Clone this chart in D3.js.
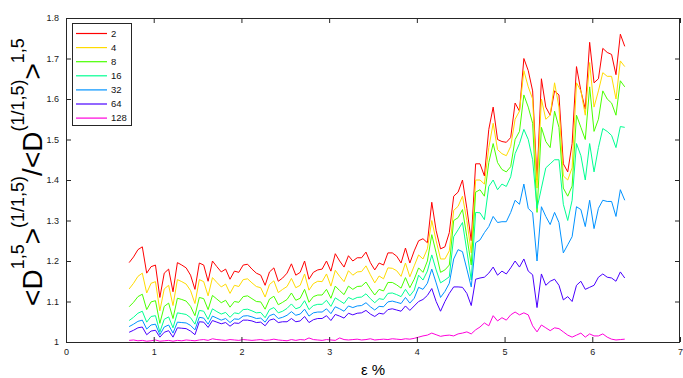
<!DOCTYPE html>
<html>
<head>
<meta charset="utf-8">
<script src="https://cdn.jsdelivr.net/npm/d3@7"></script>
<style>
  html, body { margin: 0; padding: 0; background: #fff; }
  svg { display: block; }
</style>
</head>
<body>
<svg id="chart" width="683" height="378"></svg>
<script>
// ---------------- data ----------------
const eps = [0.72,0.77,0.82,0.87,0.92,0.97,1.02,1.07,1.12,1.17,
1.22,1.27,1.32,1.37,1.42,1.47,1.52,1.57,1.62,1.67,
1.72,1.77,1.82,1.87,1.92,1.97,2.02,2.07,2.12,2.17,
2.22,2.27,2.32,2.37,2.42,2.47,2.52,2.57,2.62,2.67,
2.72,2.77,2.82,2.87,2.92,2.97,3.02,3.07,3.12,3.17,
3.22,3.27,3.32,3.37,3.42,3.47,3.52,3.57,3.62,3.67,
3.72,3.77,3.82,3.87,3.92,3.97,4.02,4.07,4.12,4.17,
4.22,4.27,4.32,4.37,4.42,4.47,4.52,4.57,4.62,4.67,
4.72,4.77,4.82,4.87,4.92,4.97,5.02,5.07,5.12,5.17,
5.22,5.27,5.32,5.37,5.42,5.47,5.52,5.57,5.62,5.67,
5.72,5.77,5.82,5.87,5.92,5.97,6.02,6.07,6.12,6.17,
6.22,6.27,6.32,6.37];

const s2 = [1.196,1.21,1.228,1.235,1.17,1.186,1.19,1.11,1.17,1.18,
1.124,1.196,1.19,1.183,1.165,1.13,1.195,1.19,1.15,1.2,
1.186,1.173,1.18,1.155,1.175,1.172,1.19,1.192,1.18,1.17,
1.165,1.14,1.173,1.183,1.15,1.158,1.17,1.193,1.165,1.172,
1.2,1.155,1.172,1.178,1.18,1.2,1.175,1.218,1.2,1.185,
1.213,1.2,1.208,1.208,1.222,1.196,1.178,1.195,1.19,1.22,
1.22,1.212,1.195,1.232,1.195,1.225,1.25,1.255,1.245,1.345,
1.275,1.23,1.235,1.27,1.36,1.37,1.4,1.33,1.25,1.44,
1.44,1.41,1.525,1.58,1.5,1.495,1.493,1.505,1.59,1.57,
1.70,1.67,1.62,1.40,1.65,1.58,1.56,1.62,1.61,1.44,
1.42,1.49,1.68,1.62,1.575,1.74,1.64,1.65,1.725,1.715,
1.71,1.66,1.76,1.73];

const s4 = [1.131,1.145,1.162,1.17,1.121,1.145,1.149,1.077,1.131,1.14,
1.09,1.154,1.149,1.143,1.127,1.095,1.154,1.149,1.114,1.159,
1.147,1.136,1.143,1.12,1.14,1.137,1.154,1.156,1.146,1.137,
1.134,1.111,1.142,1.151,1.122,1.13,1.137,1.157,1.134,1.14,
1.168,1.128,1.144,1.15,1.149,1.168,1.138,1.177,1.162,1.149,
1.176,1.165,1.173,1.174,1.188,1.166,1.146,1.163,1.156,1.183,
1.182,1.176,1.162,1.195,1.161,1.188,1.215,1.205,1.23,1.30,
1.25,1.205,1.205,1.225,1.325,1.335,1.36,1.3,1.22,1.40,
1.40,1.39,1.48,1.54,1.475,1.465,1.46,1.483,1.55,1.57,
1.67,1.63,1.6,1.38,1.6,1.55,1.56,1.64,1.58,1.41,
1.40,1.43,1.64,1.62,1.56,1.69,1.58,1.62,1.665,1.656,
1.656,1.6,1.694,1.68];

const s8 = [1.087,1.098,1.112,1.118,1.08,1.099,1.102,1.046,1.088,1.096,
1.058,1.108,1.105,1.101,1.088,1.065,1.11,1.107,1.08,1.115,
1.106,1.097,1.103,1.086,1.1,1.098,1.112,1.114,1.107,1.1,
1.099,1.081,1.106,1.113,1.092,1.098,1.105,1.121,1.103,1.108,
1.13,1.098,1.112,1.116,1.116,1.13,1.108,1.138,1.127,1.117,
1.138,1.13,1.137,1.138,1.148,1.131,1.116,1.13,1.126,1.147,
1.147,1.141,1.133,1.159,1.134,1.155,1.183,1.172,1.2,1.265,
1.22,1.172,1.178,1.19,1.3,1.307,1.327,1.26,1.19,1.37,
1.376,1.36,1.443,1.49,1.443,1.426,1.42,1.433,1.50,1.52,
1.61,1.58,1.54,1.32,1.53,1.495,1.48,1.57,1.53,1.38,
1.36,1.385,1.56,1.53,1.5,1.63,1.52,1.55,1.62,1.6,
1.59,1.56,1.645,1.63];

const s16 = [1.053,1.061,1.071,1.076,1.049,1.063,1.065,1.025,1.056,1.062,
1.035,1.072,1.07,1.068,1.06,1.044,1.078,1.076,1.056,1.082,
1.075,1.069,1.073,1.061,1.072,1.07,1.08,1.081,1.077,1.072,
1.073,1.06,1.08,1.085,1.072,1.076,1.083,1.094,1.082,1.086,
1.102,1.08,1.09,1.093,1.093,1.103,1.088,1.109,1.102,1.095,
1.11,1.105,1.11,1.111,1.119,1.107,1.097,1.107,1.105,1.12,
1.121,1.117,1.112,1.13,1.114,1.128,1.165,1.153,1.175,1.215,
1.178,1.146,1.153,1.161,1.26,1.277,1.295,1.225,1.153,1.32,
1.319,1.302,1.384,1.40,1.376,1.39,1.384,1.408,1.465,1.49,
1.525,1.5,1.45,1.33,1.38,1.43,1.44,1.45,1.45,1.34,
1.30,1.35,1.49,1.46,1.40,1.49,1.42,1.48,1.527,1.52,
1.51,1.48,1.532,1.53];

const s32 = [1.038,1.044,1.051,1.054,1.032,1.042,1.044,1.018,1.037,1.042,
1.022,1.049,1.048,1.047,1.041,1.03,1.061,1.059,1.044,1.064,
1.059,1.054,1.058,1.048,1.057,1.056,1.064,1.065,1.062,1.058,
1.059,1.049,1.065,1.069,1.058,1.061,1.066,1.075,1.066,1.069,
1.081,1.064,1.072,1.074,1.074,1.082,1.07,1.087,1.082,1.076,
1.089,1.085,1.089,1.09,1.097,1.087,1.079,1.088,1.087,1.099,
1.101,1.098,1.095,1.11,1.096,1.108,1.135,1.13,1.145,1.18,
1.146,1.11,1.125,1.145,1.205,1.228,1.223,1.18,1.136,1.245,
1.252,1.27,1.285,1.31,1.295,1.297,1.297,1.32,1.35,1.34,
1.39,1.33,1.319,1.2,1.334,1.31,1.29,1.32,1.295,1.22,
1.24,1.26,1.334,1.327,1.285,1.35,1.28,1.33,1.35,1.347,
1.347,1.31,1.376,1.35];

const s64 = [1.024,1.029,1.035,1.037,1.018,1.027,1.029,1.012,1.024,1.028,
1.012,1.035,1.034,1.033,1.027,1.018,1.05,1.049,1.036,1.053,
1.049,1.045,1.048,1.039,1.047,1.046,1.054,1.054,1.052,1.048,
1.049,1.04,1.054,1.057,1.048,1.05,1.05,1.058,1.05,1.052,
1.063,1.048,1.055,1.058,1.058,1.065,1.053,1.068,1.064,1.059,
1.071,1.067,1.071,1.072,1.078,1.069,1.063,1.071,1.069,1.08,
1.082,1.079,1.076,1.089,1.078,1.089,1.1,1.105,1.115,1.132,
1.1,1.076,1.1,1.12,1.136,1.136,1.135,1.12,1.09,1.155,
1.158,1.16,1.17,1.185,1.165,1.175,1.168,1.183,1.2,1.185,
1.205,1.175,1.166,1.085,1.168,1.14,1.15,1.155,1.14,1.104,
1.112,1.1,1.14,1.15,1.13,1.135,1.14,1.16,1.168,1.16,
1.158,1.15,1.173,1.158];

const s128 = [1.004,1.005,1.003,1.004,1.002,1.003,1.005,1.002,1.003,1.004,
1.002,1.004,1.003,1.005,1.004,1.003,1.005,1.006,1.004,1.008,
1.006,1.005,1.004,1.006,1.005,1.004,1.006,1.005,1.004,1.005,
1.006,1.004,1.005,1.007,1.005,1.004,1.003,1.006,1.004,1.006,
1.005,1.01,1.006,1.005,1.004,1.006,1.005,1.004,1.01,1.006,
1.005,1.006,1.007,1.005,1.006,1.008,1.005,1.006,1.007,1.006,
1.008,1.007,1.006,1.008,1.007,1.009,1.012,1.015,1.017,1.022,
1.018,1.014,1.016,1.017,1.015,1.02,1.022,1.025,1.02,1.03,
1.037,1.047,1.04,1.065,1.052,1.06,1.054,1.067,1.074,1.067,
1.072,1.067,1.04,1.025,1.042,1.035,1.028,1.035,1.033,1.025,
1.017,1.012,1.017,1.022,1.012,1.02,1.015,1.015,1.02,1.012,
1.007,1.005,1.006,1.007];

const seriesNames = ["2","4","8","16","32","64","128"];
const seriesValues = [s2, s4, s8, s16, s32, s64, s128];
const seriesColors = ["#ff0000","#ffdb00","#49ff00","#00ff92","#0092ff","#4900ff","#ff00db"];
const xTicks = [0,1,2,3,4,5,6,7];
const yTicks = [1,1.1,1.2,1.3,1.4,1.5,1.6,1.7,1.8];

// ---------------- layout ----------------
const L = 66, R = 680, T = 18, B = 342;
const svg = d3.select("#chart");
const x = d3.scaleLinear().domain([0,7]).range([L,R]);
const y = d3.scaleLinear().domain([1,1.8]).range([B,T]);
const font = "'Liberation Sans', Arial, Helvetica, sans-serif";

// lines
const line = d3.line().x((d,i)=>x(eps[i])).y(d=>y(d));
const gLines = svg.append("g");
seriesValues.forEach((vals, k) => {
  gLines.append("path")
    .attr("d", line(vals))
    .attr("fill","none")
    .attr("stroke", seriesColors[k])
    .attr("stroke-width", 1)
    .attr("stroke-linejoin","round");
});

// axes with inward ticks
const tickCol = "#262626";
function styleAxis(g){
  g.select(".domain").remove();
  g.selectAll(".tick line").attr("stroke", tickCol);
  g.selectAll(".tick text").attr("fill", "#1a1a1a")
    .style("font-family", font).style("font-size","9px");
}
svg.append("g").attr("transform",`translate(0,${B})`)
  .call(d3.axisBottom(x).tickValues(xTicks).tickSizeInner(-5).tickSizeOuter(0).tickPadding(7).tickFormat(d3.format("d")))
  .call(styleAxis);
svg.append("g").attr("transform",`translate(0,${T})`)
  .call(d3.axisTop(x).tickValues(xTicks).tickSizeInner(-5).tickSizeOuter(0).tickFormat(""))
  .call(styleAxis);
svg.append("g").attr("transform",`translate(${L},0)`)
  .call(d3.axisLeft(y).tickValues(yTicks).tickSizeInner(-5).tickSizeOuter(0).tickPadding(7)
    .tickFormat(d => d === 1 ? "1" : d3.format(".1f")(d)))
  .call(styleAxis);
svg.append("g").attr("transform",`translate(${R},0)`)
  .call(d3.axisRight(y).tickValues(yTicks).tickSizeInner(-5).tickSizeOuter(0).tickFormat(""))
  .call(styleAxis);

// frame
svg.append("rect").attr("x",L+0.5).attr("y",T+0.5).attr("width",R-L-1).attr("height",B-T)
  .attr("fill","none").attr("stroke",tickCol).attr("stroke-width",1);

// x label
svg.append("text").attr("x",(L+R)/2).attr("y",375).attr("text-anchor","middle")
  .style("font-family",font).style("font-size","15px").attr("fill","#000").text("ε %");

// y label
const yl = svg.append("text")
  .attr("transform","translate(42,172) rotate(-90)")
  .attr("text-anchor","middle")
  .style("font-family",font).style("font-size","28px").attr("fill","#000");
const parts = [["<D",0],["1,5",1],[">",0],["(1/1,5)",1],["/<D",0],["(1/1,5)",1],[">",0],["1,5",1]];
let cur = 0;
parts.forEach(([t,sup])=>{
  const target = sup ? -18 : 0;
  yl.append("tspan").attr("dy", target - cur).style("font-size", sup ? "18px" : "28px").text(t);
  cur = target;
});

// legend
const lg = svg.append("g");
lg.append("rect").attr("x",72.5).attr("y",23.5).attr("width",59).attr("height",102)
  .attr("fill","#fff").attr("stroke","#262626").attr("stroke-width",1);
seriesNames.forEach((n,k)=>{
  const yy = 33.5 + k*14.1;
  lg.append("line").attr("x1",76).attr("x2",107).attr("y1",yy).attr("y2",yy)
    .attr("stroke",seriesColors[k]).attr("stroke-width",1.2);
  lg.append("text").attr("x",111).attr("y",yy+3.3)
    .style("font-family",font).style("font-size","9.5px").attr("fill","#111").text(n);
});
</script>
</body>
</html>
